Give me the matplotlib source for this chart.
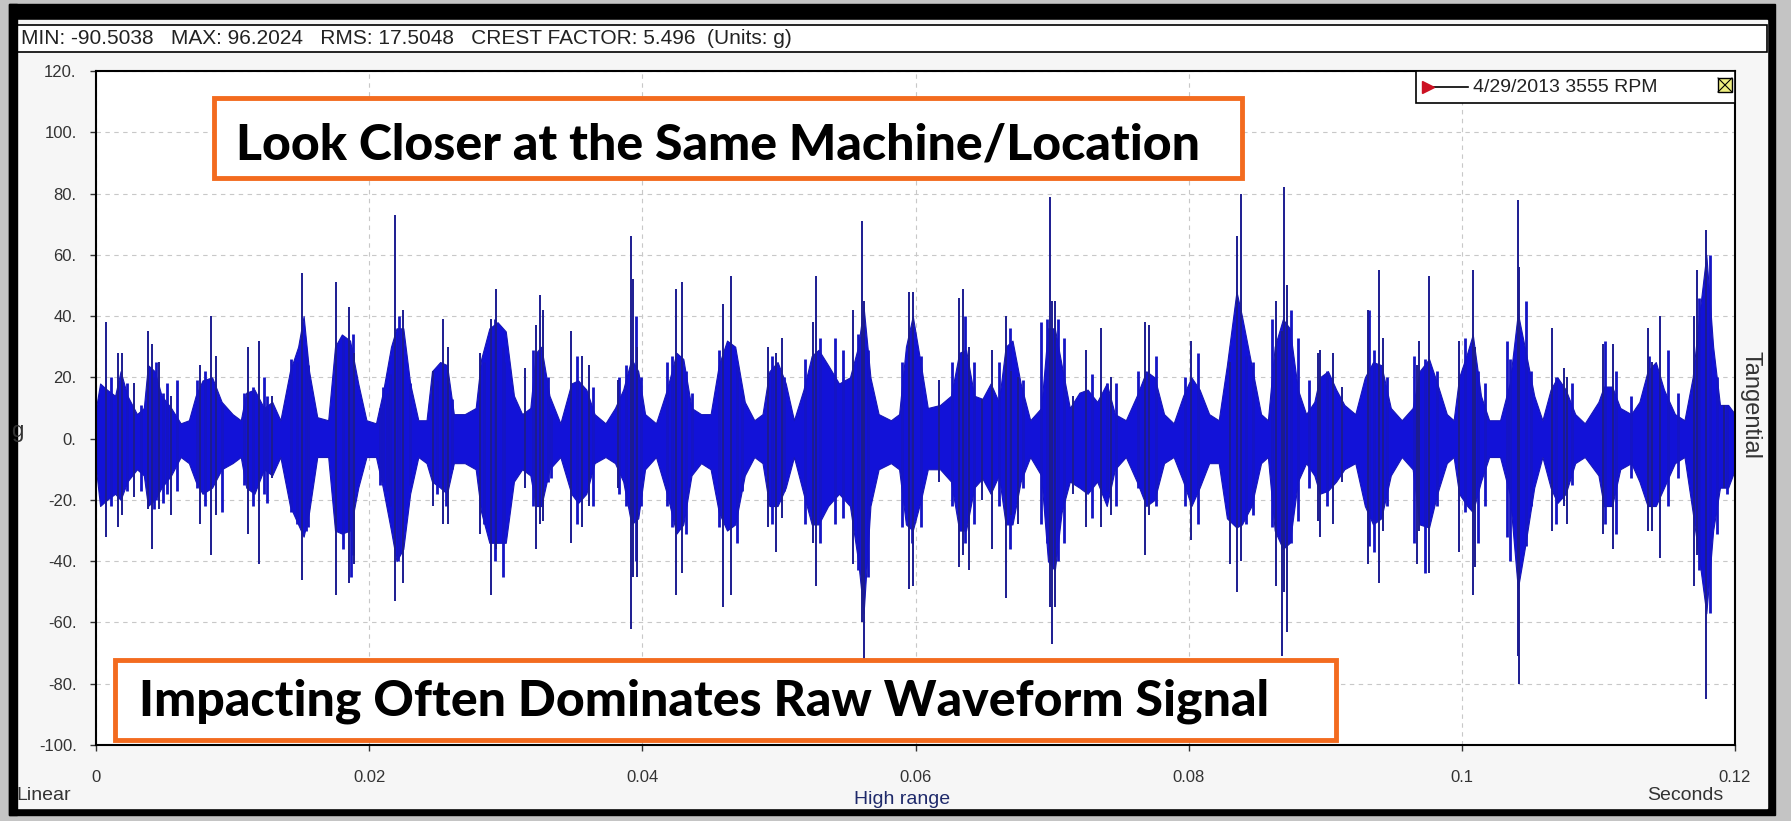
import numpy as np
import matplotlib.pyplot as plt
from matplotlib.patches import Rectangle

# ---------- DATA ----------
# waveform envelope knots: time (ms), upper and lower level (g)
env_ms = [0.0, 0.3, 0.8, 1.4, 1.8, 2.3, 3.0, 3.5, 3.8, 4.3, 4.8, 5.5, 6.2, 6.8,
          7.3, 7.8, 8.5, 9.2, 10.0, 10.6, 11.0, 11.6, 12.3, 12.9, 13.5, 14.2,
          14.8, 15.2, 15.6, 16.2, 17.0, 17.5, 18.0, 18.6, 19.2, 19.8, 20.5,
          21.0, 21.6, 22.0, 22.5, 23.0, 23.6, 24.2, 24.6, 25.2, 25.7, 26.2,
          27.0, 27.8, 28.2, 28.8, 29.4, 30.0, 30.6, 31.2, 31.8, 32.2, 32.6,
          33.2, 34.0, 34.8, 35.3, 35.9, 36.5, 37.3, 38.0, 38.6, 39.2, 39.7,
          40.2, 41.0, 41.8, 42.5, 43.0, 43.6, 44.3, 45.0, 45.6, 46.2, 46.8,
          47.5, 48.2, 48.8, 49.3, 49.9, 50.5, 51.1, 51.8, 52.4, 52.9, 53.6,
          54.4, 55.2, 55.8, 56.2, 56.7, 57.3, 58.2, 58.8, 59.3, 59.8, 60.4,
          60.9, 61.8, 62.6, 63.2, 63.7, 64.3, 64.9, 65.5, 66.1, 66.6, 67.1,
          67.7, 68.4, 69.2, 69.7, 70.2, 70.7, 71.3, 72.0, 72.6, 73.3, 74.0,
          74.6, 75.4, 76.2, 76.9, 77.5, 78.2, 78.9, 79.6, 80.2, 80.8, 81.5,
          82.2, 82.8, 83.5, 83.9, 84.6, 85.3, 85.8, 86.3, 86.9, 87.4, 88.0,
          88.6, 89.2, 89.6, 90.2, 90.8, 91.4, 92.2, 92.9, 93.5, 94.1, 94.8,
          95.6, 96.4, 96.9, 97.6, 98.2, 98.9, 99.4, 99.8, 100.4, 100.8, 101.4,
          102.0, 102.8, 103.5, 104.1, 104.6, 105.3, 105.9, 106.5, 107.0, 107.6,
          108.3, 109.0, 110.0, 110.4, 111.0, 111.6, 112.4, 113.0, 113.6, 114.2,
          114.8, 115.6, 116.3, 116.9, 117.4, 117.9, 118.4, 118.9, 119.5, 120.0]
env_hi = [10, 18, 16, 14, 22, 14, 8, 10, 24, 22, 14, 10, 5, 6,
          14, 19, 20, 12, 8, 6, 15, 16, 10, 12, 6, 22,
          30, 40, 22, 7, 6, 30, 34, 32, 18, 6, 5,
          15, 30, 36, 36, 18, 6, 6, 22, 25, 24, 8,
          8, 10, 26, 36, 38, 35, 14, 8, 10, 28, 30,
          14, 5, 18, 19, 16, 8, 5, 10, 16, 26, 22,
          8, 5, 16, 28, 26, 10, 8, 8, 24, 32, 30,
          12, 6, 8, 22, 25, 18, 6, 16, 27, 29, 24,
          18, 20, 30, 43, 20, 8, 6, 8, 30, 40, 24,
          10, 11, 14, 28, 29, 14, 13, 18, 12, 30, 32,
          18, 6, 10, 36, 36, 24, 10, 15, 16, 12, 18,
          8, 6, 14, 22, 20, 8, 5, 14, 20, 16, 8,
          6, 24, 48, 40, 24, 8, 6, 30, 39, 36, 16,
          8, 12, 20, 22, 16, 11, 8, 20, 25, 24, 10,
          6, 10, 22, 26, 18, 8, 6, 20, 28, 34, 14,
          6, 6, 18, 41, 30, 14, 6, 16, 20, 16,
          8, 5, 12, 17, 17, 10, 8, 12, 22, 25,
          16, 8, 6, 20, 41, 60, 30, 11, 11, 8]
env_lo = [-10, -22, -20, -18, -20, -14, -10, -12, -22, -20, -16, -12, -6, -8,
          -14, -18, -16, -10, -8, -6, -16, -18, -10, -12, -6, -22,
          -28, -32, -24, -6, -6, -30, -31, -30, -16, -6, -6,
          -16, -30, -40, -36, -18, -6, -8, -14, -16, -18, -8,
          -8, -10, -24, -34, -34, -34, -14, -10, -12, -22, -22,
          -10, -6, -18, -21, -18, -8, -6, -8, -14, -28, -26,
          -10, -6, -18, -31, -28, -12, -8, -10, -24, -30, -28,
          -12, -6, -8, -22, -22, -16, -6, -18, -28, -28, -22,
          -18, -22, -40, -57, -22, -10, -8, -10, -28, -30, -20,
          -10, -10, -14, -30, -30, -16, -13, -18, -12, -28, -28,
          -14, -6, -12, -40, -43, -24, -14, -16, -18, -14, -22,
          -10, -6, -14, -22, -20, -8, -6, -14, -22, -16, -8,
          -8, -26, -29, -28, -22, -8, -6, -30, -36, -34, -14,
          -8, -12, -18, -17, -14, -10, -8, -22, -28, -26, -12,
          -6, -10, -28, -29, -18, -8, -6, -18, -22, -24, -14,
          -6, -6, -18, -49, -36, -16, -6, -16, -21, -18,
          -8, -6, -12, -22, -22, -10, -8, -14, -22, -22,
          -16, -8, -6, -24, -40, -57, -30, -16, -16, -10]

# impact spikes standing out of the envelope: time (ms), top and bottom (g)
spike_ms = [0.7, 1.6, 1.9, 2.8, 3.8, 4.1, 4.6, 5.5, 7.6, 8.4, 8.8, 11.1, 11.9,
            12.9, 15.1, 17.6, 18.5, 18.9, 21.9, 22.5, 24.7, 25.4, 25.8, 28.1,
            28.9, 29.3, 31.4, 32.2, 32.5, 32.7, 34.8, 35.6, 36.1, 38.2, 39.15,
            39.35, 39.6, 42.5, 42.9, 45.9, 46.5, 49.2, 49.8, 50.2, 52.5, 52.7,
            55.4, 56.1, 56.25, 59.5, 59.8, 61.7, 63.2, 63.5, 63.9, 64.9, 65.6,
            66.6, 67.0, 67.5, 69.85, 69.96, 70.2, 71.5, 72.5, 73.6, 74.3, 76.8,
            77.1, 80.2, 83.0, 83.55, 83.8, 86.4, 86.85, 86.97, 87.2, 89.5, 89.6,
            90.6, 91.2, 93.1, 93.9, 94.2, 96.7, 96.85, 97.6, 99.8, 100.8, 101.0,
            104.1, 104.2, 106.6, 107.5, 107.7, 110.3, 111.1, 113.6, 113.9, 114.5,
            117.0, 117.2, 117.9, 119.2]
spike_hi = [38, 28, 28, 18, 35, 31, 25, 14, 24, 40, 27, 30, 32,
            14, 54, 51, 43, 28, 73, 42, 22, 39, 30, 28,
            39, 49, 23, 37, 47, 42, 35, 27, 24, 19, 66,
            52, 30, 49, 51, 44, 53, 30, 28, 33, 38, 53,
            42, 71, 45, 48, 48, 19, 46, 49, 30, 13, 29,
            40, 22, 20, 79, 45, 45, 14, 29, 36, 20, 38,
            37, 32, 25, 66, 80, 45, 35, 82, 50, 28, 29,
            28, 17, 42, 55, 33, 24, 32, 53, 32, 55, 30,
            78, 56, 36, 23, 20, 31, 31, 36, 25, 40,
            40, 55, 68, 11]
spike_lo = [-32, -29, -25, -19, -23, -36, -23, -25, -28, -38, -25, -31, -41,
            -13, -46, -51, -47, -41, -53, -47, -22, -28, -28, -31,
            -51, -36, -16, -36, -28, -27, -34, -29, -22, -16, -62,
            -45, -45, -51, -44, -55, -51, -29, -37, -26, -34, -48,
            -41, -60, -72, -49, -48, -14, -42, -38, -43, -20, -36,
            -52, -25, -28, -55, -67, -55, -18, -29, -29, -25, -38,
            -25, -33, -41, -50, -40, -48, -71, -50, -63, -27, -32,
            -28, -14, -41, -47, -30, -41, -30, -44, -37, -51, -42,
            -71, -80, -30, -22, -28, -31, -36, -30, -30, -39,
            -48, -38, -85, -16]

# smaller ringing lines inside each burst: time (ms), top and bottom (g)
ripple_ms = [1.1, 2.3, 3.3, 4.25, 4.4, 4.9, 5.2, 5.9, 7.4, 8.0, 9.2, 10.8,
             11.5, 12.3, 12.5, 14.3, 14.7, 15.4, 15.5, 18.1, 18.7, 18.8, 20.8,
             21.0, 21.3, 21.5, 22.1, 22.2, 23.0, 25.0, 25.6, 26.1, 28.4, 29.2,
             29.8, 29.9, 32.0, 33.1, 33.3, 35.2, 36.4, 38.3, 38.8, 39.5, 39.9,
             41.8, 42.2, 43.2, 43.6, 45.6, 46.9, 47.3, 49.5, 50.4, 51.9, 53.0,
             54.1, 54.7, 55.8, 56.5, 59.0, 59.75, 60.4, 62.7, 63.6, 64.25, 66.1,
             66.9, 67.9, 69.2, 69.6, 70.45, 70.9, 72.9, 74.0, 74.7, 76.3, 77.6,
             79.7, 80.65, 84.2, 84.7, 86.1, 87.5, 88.0, 88.8, 90.15, 93.2, 93.6,
             94.5, 96.5, 97.3, 98.2, 100.25, 101.2, 101.7, 103.3, 103.5, 104.7,
             105.1, 106.9, 108.1, 110.45, 111.3, 112.4, 113.7, 115.1, 115.8,
             117.4, 118.2, 118.7, 119.45]
ripple_hi = [20, 18, 11, 20, 25, 15, 18, 19, 19, 22, 11, 15,
             17, 20, 14, 26, 25, 29, 24, 33, 30, 34, 10,
             17, 15, 21, 34, 40, 18, 19, 20, 13, 25, 39,
             30, 25, 29, 20, 8, 27, 17, 20, 24, 40, 20,
             25, 27, 22, 15, 29, 24, 15, 27, 20, 26, 33,
             33, 29, 34, 29, 25, 36, 27, 25, 40, 25, 25,
             36, 19, 38, 39, 39, 33, 21, 18, 18, 22, 27,
             20, 28, 27, 25, 39, 42, 33, 19, 22, 42, 29,
             20, 27, 26, 22, 33, 22, 18, 32, 26, 45,
             22, 20, 18, 32, 22, 14, 27, 29, 15,
             46, 60, 20, 11]
ripple_lo = [-22, -17, -17, -23, -20, -21, -18, -17, -16, -22, -24, -15,
             -22, -18, -21, -24, -28, -30, -29, -36, -45, -38, -15,
             -14, -17, -22, -40, -38, -15, -18, -22, -10, -28, -40,
             -45, -30, -22, -14, -13, -28, -22, -18, -22, -40, -22,
             -22, -29, -31, -10, -29, -34, -17, -28, -17, -28, -34,
             -28, -26, -43, -45, -29, -34, -29, -22, -34, -28, -22,
             -36, -16, -28, -34, -40, -34, -26, -17, -22, -16, -22,
             -22, -28, -28, -25, -29, -34, -27, -16, -22, -35, -37,
             -22, -34, -44, -22, -24, -34, -22, -32, -40, -35,
             -22, -28, -15, -28, -31, -13, -22, -22, -13,
             -43, -57, -31, -18]

y_ticks = [-100, -80, -60, -40, -20, 0, 20, 40, 60, 80, 100, 120]
x_ticks = [0, 0.02, 0.04, 0.06, 0.08, 0.1, 0.12]
x_tick_labels = ['0', '0.02', '0.04', '0.06', '0.08', '0.1', '0.12']

stats_text = 'MIN: -90.5038   MAX: 96.2024   RMS: 17.5048   CREST FACTOR: 5.496  (Units: g)'
legend_text = '4/29/2013 3555 RPM'
note_top = 'Look Closer at the Same Machine/Location'
note_bottom = 'Impacting Often Dominates Raw Waveform Signal'

W, H = 1791, 821
plt.rcParams['font.family'] = ['Liberation Sans', 'DejaVu Sans']

fig = plt.figure(figsize=(W / 100, H / 100), dpi=100)
fig.patch.set_facecolor('#c4c4c4')

# ---------- BACKGROUND PANELS (pixel coords) ----------
bg = fig.add_axes([0, 0, 1, 1], zorder=0)
bg.set_xlim(0, W)
bg.set_ylim(H, 0)
bg.axis('off')
bg.add_patch(Rectangle((9, 4), 1766, 811, color='black'))
bg.add_patch(Rectangle((17, 20), 1750, 788, color='#f6f6f6'))
bg.add_patch(Rectangle((15, 25), 1752, 27, fc='white', ec='black', lw=1.2))
bg.text(21, 39, stats_text, fontsize=15, va='center', color='#222222')

# ---------- WAVEFORM ----------
ax = fig.add_axes([96 / W, 1 - 745 / H, (1735 - 96) / W, 674 / H], zorder=1)
t = np.array(env_ms) / 1000
ax.fill_between(t, env_lo, env_hi, color='#1212d8', lw=0.8, ec='#1616b8')
ax.vlines(np.array(ripple_ms) / 1000, ripple_lo, ripple_hi, color='#1515c4', lw=2.0)
ax.vlines(np.array(spike_ms) / 1000, spike_lo, spike_hi, color='#1c1c90', lw=1.4)

ax.set_xlim(0, 0.12)
ax.set_ylim(-100, 120)
ax.set_xticks(x_ticks)
ax.set_xticklabels(x_tick_labels)
ax.set_yticks(y_ticks)
ax.set_yticklabels([f'{v}.' for v in y_ticks])
ax.tick_params(direction='out', length=4, width=1, color='#333333',
               labelsize=12, labelcolor='#333333')
ax.tick_params(axis='x', pad=14)
ax.tick_params(axis='y', pad=10)
ax.grid(True, ls=(0, (4, 4)), color='#c8c8c8', lw=0.8)
ax.set_axisbelow(True)
for s in ax.spines.values():
    s.set_linewidth(1.5)

# ---------- OVERLAY: notes, legend, labels ----------
ov = fig.add_axes([0, 0, 1, 1], zorder=2)
ov.set_xlim(0, W)
ov.set_ylim(H, 0)
ov.axis('off')
ov.patch.set_alpha(0)

orange = '#f36b1f'
note_font = dict(fontsize=36, fontweight='black', family=['Lato', 'DejaVu Sans'],
                 va='baseline', ha='left', color='black')
ov.add_patch(Rectangle((214, 98), 1028, 80, fc='white', ec=orange, lw=3.5))
ov.text(236, 159, note_top, **note_font)
ov.add_patch(Rectangle((115, 660), 1221, 80, fc='white', ec=orange, lw=3.5))
ov.text(139, 716, note_bottom, **note_font)

# legend box
ov.add_patch(Rectangle((1416, 71), 319, 32, fc='white', ec='black', lw=1.2))
ov.plot([1432, 1468], [87, 87], color='black', lw=1.2)
ov.plot([1428], [87], marker='>', color='#cc1122', ms=9)
ov.text(1473, 87, legend_text, fontsize=14, va='center', color='#222222')
ov.add_patch(Rectangle((1718, 78), 14, 14, fc='#eeee80', ec='black', lw=1))
ov.plot([1718, 1732], [78, 92], color='black', lw=0.8)
ov.plot([1718, 1732], [92, 78], color='black', lw=0.8)

ov.text(16, 796, 'Linear', fontsize=14, va='center', color='#333333')
ov.text(902, 800, 'High range', fontsize=14, va='center', ha='center', color='#1f2a6b')
ov.text(1685, 796, 'Seconds', fontsize=14, va='center', ha='center', color='#333333')
ov.text(1750, 405, 'Tangential', fontsize=17, rotation=-90, va='center', ha='center',
        color='#333333')
ov.text(11, 432, 'g', fontsize=16, va='center', ha='left', color='#333333')
ov.add_patch(Rectangle((9, 4), 8, 811, color='black'))

fig.savefig('out.png', dpi=100, facecolor=fig.get_facecolor())
